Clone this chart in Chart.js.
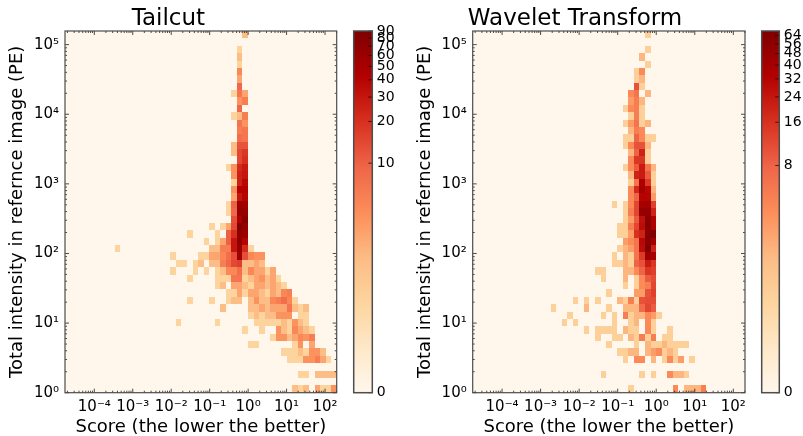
<!DOCTYPE html>
<html><head><meta charset="utf-8">
<script src="https://cdn.jsdelivr.net/npm/chart.js@4/dist/chart.umd.min.js"></script>
<style>
html,body{margin:0;padding:0;background:#fff;width:803px;height:436px;overflow:hidden}
canvas{position:absolute;top:0}
</style></head><body>
<canvas id="c1" width="402" height="436" style="left:0"></canvas>
<canvas id="b1" width="60" height="436" style="left:345px"></canvas>
<canvas id="c2" width="408" height="436" style="left:405px"></canvas>
<canvas id="b2" width="53" height="436" style="left:750px"></canvas>
<script>
const xTicks=[1e-4,1e-3,1e-2,1e-1,1,10,100];
const yTicks=[1,10,100,1000,10000,100000];
const xRange=[1.73e-5,201];
const yRange=[1,157000];
const binCount=49;
const titles=["Tailcut","Wavelet Transform"];
const xLabel="Score (the lower the better)";
const yLabel="Total intensity in refernce image (PE)";
const tailcutBarTicks=[0,10,20,30,40,50,60,70,80,90];
const waveletBarTicks=[0,8,16,24,32,40,48,56,64];
// each entry: row (from the bottom) -> {column: count}
const tailcutRows=[
/*0*/{41:2,42:1,43:2,45:3,46:1,47:1,48:4},
/*1*/{},
/*2*/{42:1,43:1,45:2,46:2,47:2,48:2},
/*3*/{},
/*4*/{40:1,41:1,42:1,43:4,44:4,45:6,46:3,47:1},
/*5*/{39:1,40:1,41:1,42:2,43:1,44:4,45:4,46:2},
/*6*/{33:1,34:1,41:1,42:4,44:3},
/*7*/{37:1,38:4,39:4,40:2,41:3,42:5,43:4,44:6},
/*8*/{32:1,35:1,38:4,39:2,40:1,41:5,42:3,43:2,44:1},
/*9*/{20:1,27:1,34:1,35:1,36:1,37:1,38:1,39:2,40:1,41:4,42:2,43:1},
/*10*/{33:1,34:2,35:1,36:2,37:2,38:4,39:4,40:4,42:1,43:1},
/*11*/{28:2,33:2,34:2,35:3,36:2,37:3,38:3,39:3,40:7,41:2,42:1,43:2},
/*12*/{22:1,26:1,29:1,30:2,31:2,33:2,34:4,35:2,36:2,37:5,38:6,39:8,40:5,41:1},
/*13*/{29:1,30:1,31:3,32:1,33:3,34:3,35:2,36:1,37:3,38:2,39:5,40:6},
/*14*/{27:1,28:2,30:3,31:3,32:2,33:1,34:3,35:3,36:2,37:3,38:2,39:1},
/*15*/{22:1,27:1,28:1,29:1,30:7,31:7,32:1,33:2,34:3,35:4,36:2,37:3,38:1},
/*16*/{19:1,23:1,25:1,27:1,28:2,29:5,30:5,31:8,32:2,33:5,34:3,35:3,36:1,37:3},
/*17*/{20:1,21:1,23:1,24:2,26:2,27:2,28:6,29:9,30:14,31:16,32:2,33:2,34:3,35:2},
/*18*/{19:1,24:1,25:1,26:3,27:3,28:5,29:8,30:13,31:55,32:13,33:5,34:4,35:4},
/*19*/{9:1,26:2,27:2,28:6,29:6,30:30,31:60,32:22,33:1},
/*20*/{25:1,27:1,28:3,29:10,30:30,31:70,32:40},
/*21*/{22:1,27:1,29:10,30:20,31:70,32:60},
/*22*/{26:1,28:1,29:3,30:14,31:85,32:65},
/*23*/{30:13,31:45,32:80},
/*24*/{29:1,30:9,31:65,32:65},
/*25*/{29:1,30:10,31:60,32:55},
/*26*/{30:3,31:30,32:40},
/*27*/{30:4,31:42,32:42},
/*28*/{30:1,31:25,32:38},
/*29*/{30:4,31:25,32:30},
/*30*/{29:1,30:4,31:22,32:28},
/*31*/{31:14,32:20},
/*32*/{30:2,31:14,32:18},
/*33*/{30:2,31:12,32:12},
/*34*/{31:8,32:7},
/*35*/{31:6,32:7},
/*36*/{31:7,32:4},
/*37*/{30:1,31:2,32:6},
/*38*/{31:9},
/*39*/{31:4,32:6},
/*40*/{30:1,31:7,32:3},
/*41*/{31:9},
/*42*/{31:3},
/*43*/{31:5},
/*44*/{31:1},
/*45*/{31:2},
/*46*/{31:1},
/*47*/{},
/*48*/{32:2}
];
const waveletRows=[
/*0*/{28:1,36:4,38:2,39:2,40:2,41:5},
/*1*/{},
/*2*/{23:1,30:1,32:1,35:4,36:2,37:2,38:1},
/*3*/{},
/*4*/{27:1,29:4,30:4,32:2,34:1,35:4,36:1,37:3,39:1},
/*5*/{26:1,27:1,28:2,29:2,31:2,32:3,33:4,34:1,35:2,36:1},
/*6*/{24:1,29:1,31:2,32:1,33:1,34:2,35:1,36:1,37:1,38:1},
/*7*/{22:1,25:1,26:1,28:2,29:1,30:5,31:1,32:5,34:1,35:1},
/*8*/{20:1,22:1,23:1,24:1,25:1,27:2,28:1,29:1,31:4,32:1,35:1},
/*9*/{16:1,18:1,25:1,28:1,29:2,31:4,32:1},
/*10*/{17:1,23:1,25:1,27:5,28:1,29:2,30:2,31:4,32:3,33:1},
/*11*/{14:1,20:2,24:1,27:2,28:2,29:2,30:7,31:12,32:9},
/*12*/{18:1,20:1,22:1,26:2,27:1,28:5,29:1,30:10,31:11,32:11},
/*13*/{24:1,29:3,30:3,31:10,32:13},
/*14*/{27:1,29:1,30:4,31:5,32:12},
/*15*/{23:1,27:2,29:1,30:4,31:9,32:11},
/*16*/{22:1,23:1,27:2,28:2,29:4,30:8,31:15,32:13},
/*17*/{25:1,26:1,27:2,28:1,29:8,30:10,31:22,32:15},
/*18*/{25:1,27:2,28:1,29:6,30:14,31:45,32:40},
/*19*/{26:1,27:2,28:3,29:6,30:28,31:68,32:20},
/*20*/{27:3,28:4,29:6,30:30,31:60,32:42},
/*21*/{26:1,27:1,28:3,29:16,30:20,31:60,32:68},
/*22*/{26:1,27:1,28:5,29:12,30:28,31:62,32:36},
/*23*/{27:1,28:3,29:9,30:26,31:60,32:35},
/*24*/{27:1,28:5,29:12,30:50,31:50,32:20},
/*25*/{25:1,27:1,28:4,29:12,30:40,31:42,32:13},
/*26*/{28:4,29:8,30:32,31:32,32:3},
/*27*/{28:4,29:18,30:40,31:30,32:2},
/*28*/{28:1,29:6,30:36,31:14,32:1},
/*29*/{28:2,29:20,30:22,31:9,32:1},
/*30*/{27:1,28:4,29:9,30:22,31:6,32:2},
/*31*/{28:4,29:15,30:15,31:1},
/*32*/{28:2,29:8,30:20,31:1},
/*33*/{27:1,28:4,29:10,30:10,31:2},
/*34*/{27:1,28:1,29:8,30:4,31:1,32:1},
/*35*/{28:2,29:5,30:4},
/*36*/{27:1,28:3,29:6,30:1,31:2},
/*37*/{28:1,29:5,30:1},
/*38*/{27:1,28:4,29:5,30:1},
/*39*/{28:3,29:5,30:2},
/*40*/{28:4,29:6,31:2},
/*41*/{29:10,30:1},
/*42*/{29:1,30:2},
/*43*/{29:1,30:4},
/*44*/{31:1},
/*45*/{30:2},
/*46*/{31:1},
/*47*/{},
/*48*/{31:1}
];
const orRd=["#fff7ec","#fee8c8","#fdd49e","#fdbb84","#fc8d59","#ef6548","#d7301f","#b30000","#7f0000"];
const FONT="'DejaVu Sans'";
const SPINE="#4d4d4d";
const SUP={"-":"\u207b","0":"\u2070","1":"\u00b9","2":"\u00b2","3":"\u00b3","4":"\u2074","5":"\u2075"};
function powLabel(v){const e=String(Math.round(Math.log10(v)));return "10"+[...e].map(c=>SUP[c]).join("");}
function rgb(h){return [1,3,5].map(i=>parseInt(h.substr(i,2),16));}
function cmap(f){f=Math.min(1,Math.max(0,f))*(orRd.length-1);const i=Math.min(orRd.length-2,Math.floor(f)),t=f-i,a=rgb(orRd[i]),b=rgb(orRd[i+1]);
 return "rgb("+a.map((c,k)=>Math.round(c+(b[k]-c)*t)).join(",")+")";}
function makeNorm(a,b){return v=>v<=0?0:(v<=1?a*v:a+b*Math.log2(v));}
function edge(r,i){return r[0]*Math.pow(r[1]/r[0],i/binCount);}
function cellsFrom(rows){const out=[];rows.forEach((row,j)=>{for(const c in row){const i=+c;
 out.push({x:edge(xRange,i),x2:edge(xRange,i+1),y:edge(yRange,j),y2:edge(yRange,j+1),v:row[c]});}});return out;}
function minorTicks(r){const out=[];for(let e=Math.floor(Math.log10(r[0]));e<=Math.ceil(Math.log10(r[1]));e++){
 for(let m=2;m<10;m++){const v=m*Math.pow(10,e);if(v>r[0]&&v<r[1])out.push(v);}}return out;}
const normA=makeNorm(0.252,0.1152), normB=makeNorm(0.269,0.1197);
const norms={c1:normA,c2:normB};

const heatPlugin={id:'heat',
 beforeDatasetsDraw(ch){const {ctx,chartArea:a,scales:{x,y}}=ch;const norm=norms[ch.canvas.id];
  ctx.save();ctx.fillStyle=orRd[0];ctx.fillRect(a.left,a.top,a.right-a.left,a.bottom-a.top);
  ch.data.datasets[0].data.forEach(d=>{
   const l=Math.round(x.getPixelForValue(d.x)),r=Math.round(x.getPixelForValue(d.x2));
   const b=Math.round(y.getPixelForValue(d.y)),t=Math.round(y.getPixelForValue(d.y2));
   ctx.fillStyle=cmap(norm(d.v));ctx.fillRect(l,t,r-l,b-t);});
  ctx.restore();},
 afterDatasetsDraw(ch){const {ctx,chartArea:a,scales:{x,y}}=ch;ctx.save();ctx.strokeStyle="#000";ctx.lineWidth=0.7;ctx.beginPath();
  const tx=(v,len)=>{const p=x.getPixelForValue(v);ctx.moveTo(p,a.bottom);ctx.lineTo(p,a.bottom-len);ctx.moveTo(p,a.top);ctx.lineTo(p,a.top+len);};
  const ty=(v,len)=>{const p=y.getPixelForValue(v);ctx.moveTo(a.left,p);ctx.lineTo(a.left+len,p);ctx.moveTo(a.right,p);ctx.lineTo(a.right-len,p);};
  xTicks.forEach(v=>tx(v,4));minorTicks(xRange).forEach(v=>tx(v,2));
  yTicks.forEach(v=>ty(v,4));minorTicks(yRange).forEach(v=>ty(v,2));
  ctx.stroke();ctx.strokeStyle=SPINE;ctx.lineWidth=1.2;ctx.strokeRect(a.left,a.top,a.right-a.left,a.bottom-a.top);ctx.restore();}
};
const barPlugin={id:'cbar',
 beforeDatasetsDraw(ch){const {ctx,chartArea:a,scales:{y}}=ch;ctx.save();
  const g=ctx.createLinearGradient(0,y.getPixelForValue(0),0,y.getPixelForValue(1));
  orRd.forEach((c,i)=>g.addColorStop(i/(orRd.length-1),c));
  ctx.fillStyle=g;ctx.fillRect(a.left,a.top,a.right-a.left,a.bottom-a.top);ctx.restore();},
 afterDatasetsDraw(ch){const {ctx,chartArea:a,scales:{y}}=ch;ctx.save();ctx.strokeStyle="#000";ctx.lineWidth=0.7;ctx.beginPath();
  y.ticks.forEach(t=>{const p=y.getPixelForValue(t.value);ctx.moveTo(a.right,p);ctx.lineTo(a.right-4,p);});ctx.stroke();
  ctx.strokeStyle=SPINE;ctx.lineWidth=1.5;ctx.strokeRect(a.left,a.top,a.right-a.left,a.bottom-a.top);ctx.restore();}
};
function heatChart(id,rows,title,leftW,rightPad,titleLeft){
 new Chart(document.getElementById(id),{type:'scatter',plugins:[heatPlugin],
  data:{datasets:[{data:cellsFrom(rows),pointRadius:0,showLine:false}]},
  options:{responsive:false,animation:false,events:[],
   layout:{padding:{left:0,right:rightPad,top:0,bottom:0}},
   plugins:{legend:{display:false},tooltip:{enabled:false},
    title:{display:true,text:title,color:"#000",font:{family:FONT,size:23,weight:'normal',lineHeight:1.2},padding:{top:5,bottom:-1.6}}},
   scales:{
    x:{type:'logarithmic',min:xRange[0],max:xRange[1],grid:{display:false,drawTicks:false},border:{display:false},
     afterBuildTicks:s=>{s.ticks=xTicks.map(value=>({value,major:true}));},
     afterFit:s=>{s.height=43.3;},
     title:{display:true,text:xLabel,color:"#000",font:{family:FONT,size:18},padding:{top:0,bottom:-2}},
     ticks:{color:"#000",font:{family:FONT,size:15},padding:5,autoSkip:false,maxRotation:0,minRotation:0,callback:v=>powLabel(v)}},
    y:{type:'logarithmic',min:yRange[0],max:yRange[1],grid:{display:false,drawTicks:false},border:{display:false},
     afterBuildTicks:s=>{s.ticks=yTicks.map(value=>({value,major:true}));},
     afterFit:s=>{s.width=leftW;},
     title:{display:true,text:yLabel,color:"#000",font:{family:FONT,size:18},padding:{top:titleLeft,bottom:0}},
     ticks:{color:"#000",font:{family:FONT,size:15},padding:6,autoSkip:false,callback:v=>powLabel(v)}}
   }}});
}
function barChart(id,ticks,norm,leftPad,barW){
 new Chart(document.getElementById(id),{type:'scatter',plugins:[barPlugin],
  data:{datasets:[{data:[],pointRadius:0}]},
  options:{responsive:false,animation:false,events:[],
   layout:{padding:{left:leftPad,right:0,top:31,bottom:43.3}},
   plugins:{legend:{display:false},tooltip:{enabled:false},title:{display:false}},
   scales:{
    x:{display:false,min:0,max:1},
    y:{position:'right',min:0,max:1,grid:{display:false,drawTicks:false},border:{display:false},
     afterBuildTicks:s=>{s.ticks=ticks.map(v=>({value:norm(v)}));},
     afterFit:s=>{s.width=s.chart.width-leftPad-barW;},
     ticks:{color:"#000",font:{family:FONT,size:14},padding:4.5,autoSkip:false,
      callback:(val,i)=>String(ticks[i])}}
   }}});
}
heatChart('c1',tailcutRows,titles[0],65,65.3,7);
barChart('b1',tailcutBarTicks,normA,8.7,18.6);
heatChart('c2',waveletRows,titles[1],67.7,68,10);
barChart('b2',waveletBarTicks,normB,11.7,17.6);
</script></body></html>
